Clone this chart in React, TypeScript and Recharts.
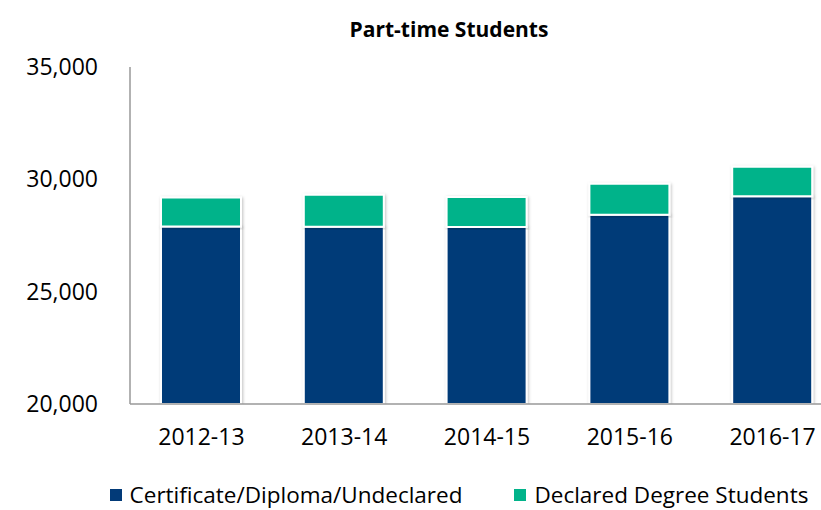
import { BarChart, Bar, XAxis, YAxis } from 'recharts';

// ─── Data ─────────────────────────────────────────────────────

const years = ['2012-13', '2013-14', '2014-15', '2015-16', '2016-17'];
const certificate = [27900, 27890, 27880, 28420, 29250];
const declared = [1290, 1420, 1330, 1380, 1310];
const yTicks = [20000, 25000, 30000, 35000];

const BLUE = '#023A78';
const GREEN = '#02B38A';
const FONT = '"Open Sans", "Noto Sans", sans-serif';

const data = years.map((y, i) => ({ year: y, certificate: certificate[i], declared: declared[i] }));

const legendItems = [
    { name: 'Certificate/Diploma/Undeclared', color: BLUE },
    { name: 'Declared Degree Students', color: GREEN },
];

export default function App() {
    return (
        <div style={{ position: 'absolute', left: 0, top: 0, width: 821, height: 510, overflow: 'hidden', background: '#fff', fontFamily: FONT }}>
            <div style={{ position: 'absolute', left: 0, width: 898, top: 14, lineHeight: '30px', textAlign: 'center', fontWeight: 700, fontSize: 21, color: '#000' }}>
                Part-time Students
            </div>
            <BarChart width={850} height={510} data={data} margin={{ top: 67, right: 6, left: 0, bottom: 46 }} barSize={80}>
                <defs>
                    <filter id="barShadow" x="-10%" y="-10%" width="120%" height="120%">
                        <feDropShadow dx="1" dy="1" stdDeviation="1.5" floodColor="#000" floodOpacity="0.25" />
                    </filter>
                </defs>
                <XAxis
                    dataKey="year"
                    height={60}
                    tickLine={false}
                    tickSize={0}
                    tickMargin={25}
                    axisLine={{ stroke: '#999', strokeWidth: 1.5 }}
                    tick={{ fill: '#000', fontSize: 23, fontFamily: FONT }}
                    interval={0}
                />
                <YAxis
                    width={130}
                    domain={[20000, 35000]}
                    ticks={yTicks}
                    allowDataOverflow
                    tickLine={false}
                    tickSize={0}
                    tickMargin={32}
                    axisLine={{ stroke: '#999', strokeWidth: 1.5 }}
                    tick={{ fill: '#000', fontSize: 23, fontFamily: FONT }}
                    tickFormatter={(v) => v.toLocaleString('en-US')}
                />
                <Bar dataKey="certificate" stackId="a" fill={BLUE} stroke="#fff" strokeWidth={2} filter="url(#barShadow)" isAnimationActive={false} />
                <Bar dataKey="declared" stackId="a" fill={GREEN} stroke="#fff" strokeWidth={2} filter="url(#barShadow)" isAnimationActive={false} />
            </BarChart>
            <div style={{ position: 'absolute', left: 0, width: 918, top: 482, height: 26, lineHeight: '26px', display: 'flex', justifyContent: 'center', gap: 52, fontSize: 22.5, color: '#000' }}>
                {legendItems.map((l) => (
                    <div key={l.name} style={{ display: 'flex', alignItems: 'center' }}>
                        <span style={{ display: 'inline-block', width: 12, height: 12, background: l.color, marginRight: 8 }} />
                        <span>{l.name}</span>
                    </div>
                ))}
            </div>
        </div>
    );
}
